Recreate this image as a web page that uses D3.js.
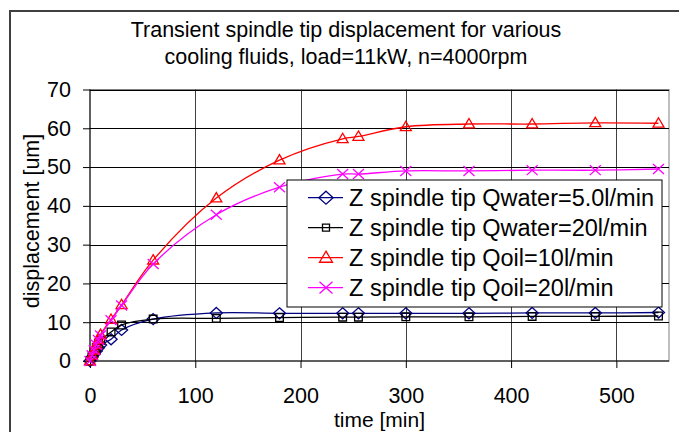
<!DOCTYPE html>
<html>
<head>
<meta charset="utf-8">
<script src="https://cdn.jsdelivr.net/npm/d3@7"></script>
<style>
  body { margin: 0; background: #fff; }
  text { font-family: "Liberation Sans", Arial, sans-serif; fill: #000; }
</style>
</head>
<body>
<div class="chart"></div>
<script>
var svgWidth = 679;
var svgHeight = 432;

// time points [min]
var times = [0, 2, 4, 6, 8, 10, 20, 30, 60, 120, 180, 240, 255, 300, 360, 420, 480, 540];
// displacement [um] per series
var waterLow = [0, 1.0, 1.8, 2.6, 3.4, 4.1, 5.6, 8.0, 10.8, 12.4, 12.3, 12.3, 12.3, 12.3, 12.3, 12.4, 12.4, 12.5];
var waterHigh = [0, 1.3, 2.4, 3.5, 4.5, 5.3, 7.5, 9.3, 10.8, 11.0, 11.2, 11.3, 11.3, 11.4, 11.4, 11.5, 11.5, 11.6];
var oilLow = [0, 1.5, 2.8, 4.2, 5.5, 6.8, 10.7, 14.5, 26.0, 42.0, 51.8, 57.3, 57.9, 60.4, 61.1, 61.1, 61.4, 61.3];
var oilHigh = [0, 1.5, 2.8, 4.2, 5.4, 6.6, 10.5, 14.3, 25.0, 37.7, 44.8, 48.2, 48.2, 49.0, 49.0, 49.2, 49.2, 49.5];

var seriesNames = [
  "Z spindle tip Qwater=5.0l/min",
  "Z spindle tip Qwater=20l/min",
  "Z spindle tip Qoil=10l/min",
  "Z spindle tip Qoil=20l/min"
];
var xTicks = [0, 100, 200, 300, 400, 500];
var yTicks = [0, 10, 20, 30, 40, 50, 60, 70];

var series = [
  { name: seriesNames[0], values: waterLow, color: "#000080", marker: "diamond" },
  { name: seriesNames[1], values: waterHigh, color: "#000000", marker: "square" },
  { name: seriesNames[2], values: oilLow, color: "#ff0000", marker: "triangle" },
  { name: seriesNames[3], values: oilHigh, color: "#ff00ff", marker: "cross" }
];

var plot = { left: 90, right: 669, top: 89.5, bottom: 361 };

var svg = d3.select(".chart")
  .append("svg")
  .attr("width", svgWidth)
  .attr("height", svgHeight);

// outer chart border
svg.append("rect")
  .attr("x", 10).attr("y", 11)
  .attr("width", 700).attr("height", 440)
  .attr("fill", "none")
  .attr("stroke", "#404040")
  .attr("stroke-width", 2);

// title
var title = svg.append("text")
  .attr("x", 346)
  .attr("text-anchor", "middle")
  .attr("font-size", "21.5px");
title.append("tspan").attr("x", 346).attr("y", 37).text("Transient spindle tip displacement for various");
title.append("tspan").attr("x", 346).attr("y", 64).text("cooling fluids, load=11kW, n=4000rpm");

var xScale = d3.scaleLinear().domain([0, 550]).range([plot.left, plot.right]);
var yScale = d3.scaleLinear().domain([0, 70]).range([plot.bottom, plot.top]);

// plot frame
svg.append("rect")
  .attr("x", plot.left).attr("y", plot.top)
  .attr("width", plot.right - plot.left)
  .attr("height", plot.bottom - plot.top)
  .attr("fill", "none")
  .attr("stroke", "#808080")
  .attr("stroke-width", 1);

// gridlines
svg.append("g")
  .selectAll("line")
  .data(xTicks.filter(d => d > 0))
  .enter()
  .append("line")
  .attr("x1", d => Math.round(xScale(d)) + 0.5)
  .attr("x2", d => Math.round(xScale(d)) + 0.5)
  .attr("y1", plot.top)
  .attr("y2", plot.bottom)
  .attr("stroke", "#404040");
svg.append("g")
  .selectAll("line")
  .data(yTicks.filter(d => d > 0))
  .enter()
  .append("line")
  .attr("x1", plot.left)
  .attr("x2", plot.right)
  .attr("y1", d => Math.round(yScale(d)) + 0.5)
  .attr("y2", d => Math.round(yScale(d)) + 0.5)
  .attr("stroke", "#000");

// axes
var bottomAxis = d3.axisBottom(xScale).tickValues(xTicks).tickSize(7).tickPadding(20);
var xAxis = svg.append("g")
  .attr("transform", `translate(0, ${plot.bottom})`)
  .call(bottomAxis);
var leftAxis = d3.axisLeft(yScale).tickValues(yTicks).tickSize(7).tickPadding(12);
var yAxis = svg.append("g")
  .attr("transform", `translate(${plot.left}, 0)`)
  .call(leftAxis);
[xAxis, yAxis].forEach(function(ax) {
  ax.select(".domain").attr("stroke", "#000");
  ax.selectAll(".tick line").attr("stroke", "#000");
  ax.selectAll(".tick text")
    .attr("font-family", "Liberation Sans, Arial, sans-serif")
    .attr("font-size", "21.5px")
    .attr("fill", "#000");
});
xAxis.select(".domain").attr("d", `M${plot.left},0H${plot.right}`);
yAxis.select(".domain").attr("d", `M0,${plot.bottom}V${plot.top}`);

// axis titles
svg.append("text")
  .attr("x", (plot.left + plot.right) / 2)
  .attr("y", 427)
  .attr("text-anchor", "middle")
  .attr("font-size", "21px")
  .text("time [min]");
svg.append("text")
  .attr("transform", `translate(39, 221) rotate(-90)`)
  .attr("text-anchor", "middle")
  .attr("font-size", "21.5px")
  .text("displacement [um]");

// marker shapes
function markerPath(type, s) {
  if (type === "diamond") return `M0,${-s * 0.5}L${s * 0.55},0L0,${s * 0.5}L${-s * 0.55},0Z`;
  if (type === "square") return `M${-s * 0.35},${-s * 0.35}H${s * 0.35}V${s * 0.35}H${-s * 0.35}Z`;
  if (type === "triangle") return `M0,${-s * 0.5}L${s * 0.5},${s * 0.35}L${-s * 0.5},${s * 0.35}Z`;
  return `M${-s * 0.5},${-s * 0.45}L${s * 0.5},${s * 0.45}M${s * 0.5},${-s * 0.45}L${-s * 0.5},${s * 0.45}`;
}

var line = d3.line()
  .x(d => xScale(d[0]))
  .y(d => yScale(d[1]))
  .curve(d3.curveCatmullRom.alpha(0.5));

series.forEach(function(s) {
  var pts = times.map((t, i) => [t, s.values[i]]);
  var g = svg.append("g");
  g.append("path")
    .attr("d", line(pts))
    .attr("fill", "none")
    .attr("stroke", s.color)
    .attr("stroke-width", 1.3);
  g.selectAll("path.mk")
    .data(pts)
    .enter()
    .append("path")
    .attr("class", "mk")
    .attr("transform", d => `translate(${xScale(d[0])}, ${yScale(d[1])})`)
    .attr("d", markerPath(s.marker, 11))
    .attr("fill", "none")
    .attr("stroke", s.color)
    .attr("stroke-width", 1.3);
});

// legend
var legend = svg.append("g").attr("transform", "translate(287, 180)");
legend.append("rect")
  .attr("x", 0).attr("y", 0)
  .attr("width", 375).attr("height", 127)
  .attr("fill", "#fff")
  .attr("stroke", "#000")
  .attr("stroke-width", 1);
var rows = legend.selectAll("g.row")
  .data(series)
  .enter()
  .append("g")
  .attr("class", "row")
  .attr("transform", (d, i) => `translate(0, ${17.7 + i * 30})`);
rows.append("line")
  .attr("x1", 21).attr("x2", 56)
  .attr("stroke", d => d.color)
  .attr("stroke-width", 1.3);
rows.append("path")
  .attr("transform", "translate(39, 0)")
  .attr("d", d => markerPath(d.marker, d.marker === "square" ? 10 : 13))
  .attr("fill", "none")
  .attr("stroke", d => d.color)
  .attr("stroke-width", 1.3);
rows.append("text")
  .attr("x", 62)
  .attr("y", 0)
  .attr("dy", "0.36em")
  .attr("font-size", "23.5px")
  .text(d => d.name);
</script>
</body>
</html>
